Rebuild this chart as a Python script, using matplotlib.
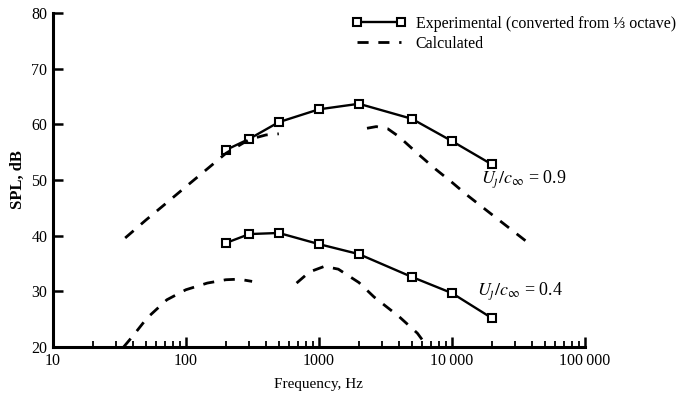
import numpy as np
import matplotlib.pyplot as plt
from matplotlib.lines import Line2D
from matplotlib.ticker import LogLocator, NullFormatter, FixedFormatter, FixedLocator

plt.rcParams['font.family'] = ['Liberation Serif', 'DejaVu Serif']
plt.rcParams['mathtext.fontset'] = 'stix'

# Experimental spectra (converted from 1/3 octave)
freq_exp = [200, 300, 500, 1000, 2000, 5000, 10000, 20000]
spl_exp_09 = [55.4, 57.4, 60.4, 62.7, 63.7, 61.0, 57.0, 52.8]
spl_exp_04 = [38.7, 40.3, 40.5, 38.5, 36.7, 32.6, 29.7, 25.2]

# Calculated spectra, two branches each
freq_calc_09a = [35, 50, 70, 100, 150, 200, 300, 400, 500]
spl_calc_09a = [39.6, 42.8, 45.7, 48.8, 52.3, 54.8, 57.3, 58.1, 58.3]
freq_calc_09b = [2300, 2700, 3300, 4000, 5500, 7500, 10000, 13000, 20000, 40000]
spl_calc_09b = [59.3, 59.6, 59.2, 57.8, 54.8, 52.0, 49.6, 47.3, 43.8, 38.2]

freq_calc_04a = [34, 40, 51, 72, 100, 145, 200, 250, 315]
spl_calc_04a = [20.0, 22.0, 25.2, 28.5, 30.3, 31.5, 32.1, 32.2, 31.8]
freq_calc_04b = [680, 850, 1100, 1400, 2000, 2600, 4000, 5500, 6300]
spl_calc_04b = [31.5, 33.5, 34.5, 34.0, 31.6, 29.0, 25.5, 22.5, 20.6]

fig = plt.figure(figsize=(6.77, 3.94), dpi=100)
ax = fig.add_axes([0.078, 0.119, 0.786, 0.848])

mk = dict(marker='s', markersize=5.5, markerfacecolor='white', markeredgecolor='black',
          markeredgewidth=1.5)
ax.plot(freq_exp, spl_exp_09, color='black', lw=1.7, **mk)
ax.plot(freq_exp, spl_exp_04, color='black', lw=1.7, **mk)

dash = dict(color='black', lw=2.0, linestyle=(0, (4, 3.5)))
ax.plot(freq_calc_09a, spl_calc_09a, **dash)
ax.plot(freq_calc_09b, spl_calc_09b, **dash)
ax.plot(freq_calc_04a, spl_calc_04a, **dash)
ax.plot(freq_calc_04b, spl_calc_04b, **dash)

ax.text(16500, 50, r'$U_\jmath/c_\infty$ = 0.9', fontsize=13, va='center', ha='left')
ax.text(15500, 29.9, r'$U_\jmath/c_\infty$ = 0.4', fontsize=13, va='center', ha='left')

ax.set_xscale('log')
ax.set_xlim(10, 100000)
ax.set_ylim(20, 80)
ax.set_yticks([20, 30, 40, 50, 60, 70, 80])
ax.xaxis.set_major_locator(FixedLocator([10, 100, 1000, 10000, 100000]))
ax.xaxis.set_major_formatter(FixedFormatter(['10', '100', '1000', '10\u2009000', '100\u2009000']))
ax.xaxis.set_minor_locator(LogLocator(base=10, subs=np.arange(2, 10)))
ax.xaxis.set_minor_formatter(NullFormatter())

for s in ['top', 'right']:
    ax.spines[s].set_visible(False)
for s in ['left', 'bottom']:
    ax.spines[s].set_linewidth(2.2)

ax.tick_params(axis='both', which='major', direction='in', length=7, width=1.8,
               labelsize=11.5, pad=4)
ax.tick_params(axis='x', which='minor', direction='in', length=4, width=1.3)

ax.set_xlabel('Frequency, Hz', fontsize=11, labelpad=7)
ax.set_ylabel('SPL, dB', fontsize=12, fontweight='bold', labelpad=4)

handles = [
    Line2D([0], [0], color='black', lw=1.7, **mk),
    Line2D([0], [0], **dash),
]
ax.legend(handles, ['Experimental (converted from \u2153 octave)', 'Calculated'],
          loc='upper left', bbox_to_anchor=(0.55, 1.01), frameon=False,
          numpoints=2, handlelength=3.4, fontsize=11.5, labelspacing=0.25,
          handletextpad=0.6, borderaxespad=0.0)

fig.savefig('out.png', dpi=100)
